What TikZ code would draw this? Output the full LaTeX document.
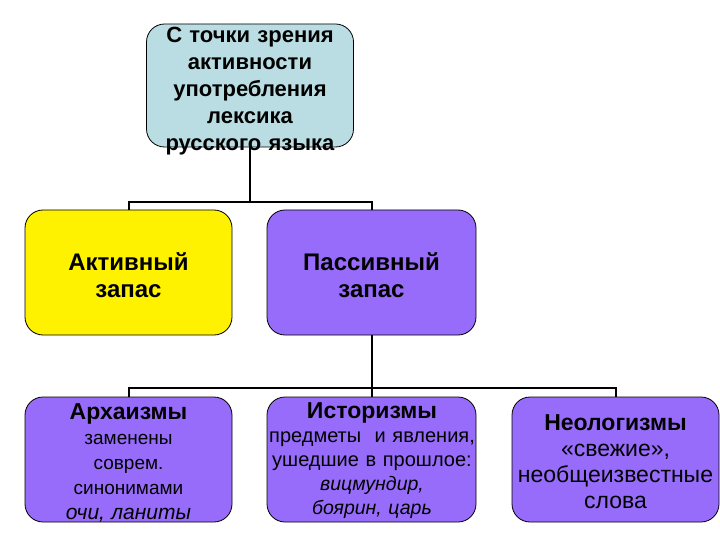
\documentclass[tikz,border=0pt]{standalone}
\usepackage{fontspec}
\setmainfont{Liberation Sans}
\definecolor{topblue}{RGB}{185,221,226}
\definecolor{lilac}{RGB}{152,108,250}
\newcommand{\bighead}{\fontsize{23}{25}\selectfont\bfseries}

\begin{document}
\begin{tikzpicture}[x=1pt,y=-1pt,
	box/.style={draw=black,line width=0.8pt,rounded corners=18pt,minimum width=207pt,minimum height=125pt,inner sep=0pt},
	txt/.style={align=center,text width=230pt,inner sep=0pt},
	conn/.style={line width=2pt}]
	\useasboundingbox (0,0) rectangle (720,540);
	\node[box,fill=topblue,minimum height=123pt] (lex) at (250,85.5) {};
	\node[box,fill=yellow] (act) at (128.5,272.5) {};
	\node[box,fill=lilac,minimum width=209pt] (pas) at (371.5,272.5) {};
	\node[box,fill=lilac] (arch) at (128.5,459.5) {};
	\node[box,fill=lilac,minimum width=209pt] (hist) at (371.5,459.5) {};
	\node[box,fill=lilac] (neo) at (615.5,459.5) {};
	\node[txt,font=\fontsize{22}{27}\selectfont\bfseries] (lex-t) at (250,91) {С точки зрения\\ активности\\ употребления\\ лексика\\ русского языка};
	\node[txt,font=\fontsize{24}{27}\selectfont\bfseries] (act-t) at (128.5,275) {Активный\\ запас};
	\node[txt,font=\fontsize{24}{27}\selectfont\bfseries] (pas-t) at (371.5,275) {Пассивный\\ запас};
	\node[txt,font=\fontsize{19}{25}\selectfont] (arch-t) at (128.5,462.5) {{\bighead Архаизмы}\\ заменены\\ соврем.\\ синонимами\\ {\fontsize{21}{25}\selectfont\itshape очи, ланиты}};
	\node[txt,font=\fontsize{20}{24}\selectfont] (hist-t) at (372,461) {{\bighead Историзмы}\\ предметы\ \ и явления,\\ ушедшие в прошлое:\\ {\fontsize{19.5}{24}\selectfont\itshape вицмундир,}\\ {\fontsize{19.5}{24}\selectfont\itshape боярин, царь}};
	\node[txt,font=\fontsize{23}{26}\selectfont] (neo-t) at (615.5,462) {{\bighead Неологизмы}\\ «свежие»,\\ необщеизвестные\\ слова};
	% connectors
	\coordinate (fork1) at (250,202);
	\coordinate (fork2) at (371.5,388);
	\draw[conn] (lex.south) -- (fork1);
	\draw[conn] (act.north) |- (fork1) -| (pas.north);
	\draw[conn] (pas.south) -- (hist.north);
	\draw[conn] (arch.north) |- (fork2) -| (neo.north);
\end{tikzpicture}
\end{document}
